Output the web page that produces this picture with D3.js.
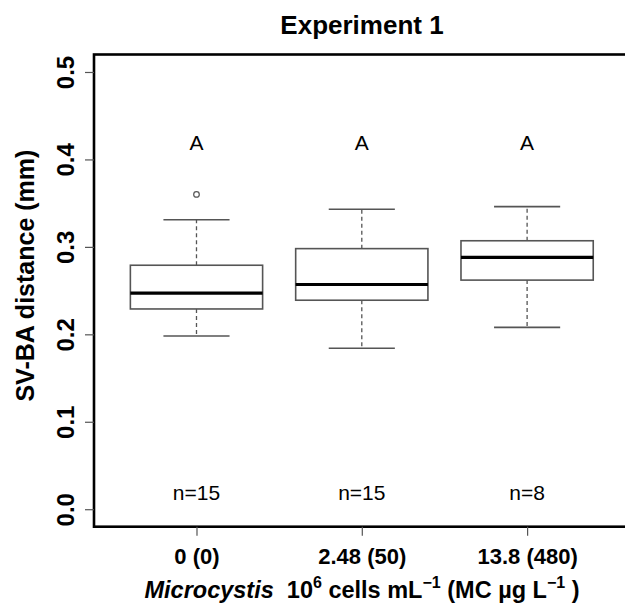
<!DOCTYPE html>
<html>
<head>
<meta charset="utf-8">
<script src="https://cdn.jsdelivr.net/npm/d3@7/dist/d3.min.js"></script>
<style>
  html, body { margin: 0; padding: 0; background: #fff; }
  svg { display: block; font-family: "Liberation Sans", Arial, sans-serif; }
</style>
</head>
<body>
<script>
// ---- data ----
const categories = ["0 (0)", "2.48 (50)", "13.8 (480)"];
const whiskerLow = [0.198, 0.184, 0.208];
const q1 = [0.229, 0.239, 0.262];
const median = [0.247, 0.257, 0.288];
const q3 = [0.279, 0.298, 0.307];
const whiskerHigh = [0.331, 0.343, 0.346];
const outliers = [[0.360], [], []];
const nLabels = ["n=15", "n=15", "n=8"];
const groupLetters = ["A", "A", "A"];
const yTicks = [0, 0.1, 0.2, 0.3, 0.4, 0.5];
const title = "Experiment 1";
const yTitle = "SV-BA distance (mm)";

const W = 625, H = 614;
const svg = d3.select("body").append("svg").attr("width", W).attr("height", H);

// R-style usr extents (4% extension)
const x = d3.scaleLinear().domain([0.38, 3.62]).range([94, 629.6]);
const y = d3.scaleLinear().domain([-0.02, 0.52]).range([526.7, 54.5]);

const boxHalf = 0.4, capHalf = 0.2;

// boxes
const g = svg.append("g");
categories.forEach((c, i) => {
  const cx = i + 1;
  // whiskers (dashed)
  g.append("line").attr("x1", x(cx)).attr("x2", x(cx))
    .attr("y1", y(q3[i])).attr("y2", y(whiskerHigh[i]))
    .attr("stroke", "#555").attr("stroke-width", 1.3).attr("stroke-dasharray", "4,3");
  g.append("line").attr("x1", x(cx)).attr("x2", x(cx))
    .attr("y1", y(q1[i])).attr("y2", y(whiskerLow[i]))
    .attr("stroke", "#555").attr("stroke-width", 1.3).attr("stroke-dasharray", "4,3");
  // caps
  [whiskerHigh[i], whiskerLow[i]].forEach(v => {
    g.append("line").attr("x1", x(cx - capHalf)).attr("x2", x(cx + capHalf))
      .attr("y1", y(v)).attr("y2", y(v))
      .attr("stroke", "#555").attr("stroke-width", 1.6);
  });
  // box
  g.append("rect").attr("x", x(cx - boxHalf)).attr("width", x(cx + boxHalf) - x(cx - boxHalf))
    .attr("y", y(q3[i])).attr("height", y(q1[i]) - y(q3[i]))
    .attr("fill", "#fff").attr("stroke", "#555").attr("stroke-width", 1.6);
  // median
  g.append("line").attr("x1", x(cx - boxHalf)).attr("x2", x(cx + boxHalf))
    .attr("y1", y(median[i])).attr("y2", y(median[i]))
    .attr("stroke", "#000").attr("stroke-width", 3.2);
  // outliers
  outliers[i].forEach(v => {
    g.append("circle").attr("cx", x(cx)).attr("cy", y(v)).attr("r", 2.8)
      .attr("fill", "none").attr("stroke", "#555").attr("stroke-width", 1.2);
  });
  // letters
  g.append("text").attr("x", x(cx)).attr("y", y(0.42) + 8)
    .attr("text-anchor", "middle").attr("font-size", 21).attr("fill", "#000")
    .text(groupLetters[i]);
  // n labels
  g.append("text").attr("x", x(cx)).attr("y", y(0.02) + 8)
    .attr("text-anchor", "middle").attr("font-size", 21).attr("fill", "#000")
    .text(nLabels[i]);
});

// plot frame (right edge runs off the canvas)
svg.append("rect").attr("x", x(0.38)).attr("y", y(0.52))
  .attr("width", x(3.62) - x(0.38)).attr("height", y(-0.02) - y(0.52))
  .attr("fill", "none").attr("stroke", "#000").attr("stroke-width", 2.6);

// y axis
const yAxis = d3.axisLeft(y).tickValues(yTicks).tickSize(9).tickFormat(d3.format(".1f"));
const ya = svg.append("g").attr("transform", `translate(${x(0.38)},0)`).call(yAxis);
ya.select(".domain").remove();
ya.selectAll(".tick line").attr("stroke", "#555").attr("stroke-width", 1.2);
ya.selectAll(".tick text")
  .attr("font-size", 24).attr("font-weight", "bold").attr("fill", "#000")
  .attr("font-family", "Liberation Sans, Arial, sans-serif")
  .attr("x", null).attr("dy", null)
  .attr("text-anchor", "middle")
  .attr("transform", "translate(-20,0) rotate(-90)")
  .attr("y", 0);

// x axis
const xAxis = d3.axisBottom(x).tickValues([1, 2, 3]).tickSize(9).tickFormat((d) => categories[d - 1]);
const xa = svg.append("g").attr("transform", `translate(0,${y(-0.02)})`).call(xAxis);
xa.select(".domain").remove();
xa.selectAll(".tick line").attr("stroke", "#555").attr("stroke-width", 1.2);
xa.selectAll(".tick text")
  .attr("font-size", 22).attr("font-weight", "bold").attr("fill", "#000")
  .attr("font-family", "Liberation Sans, Arial, sans-serif")
  .attr("dy", null).attr("y", 37);

// title
svg.append("text").attr("x", 362).attr("y", 34).attr("text-anchor", "middle")
  .attr("font-size", 26).attr("font-weight", "bold").text(title);

// y title
svg.append("text").attr("transform", `translate(34,${(y(-0.02) + y(0.52)) / 2 - 15}) rotate(-90)`)
  .attr("text-anchor", "middle").attr("font-size", 25).attr("font-weight", "bold").text(yTitle);

// x title
const xt = svg.append("text").attr("x", 362).attr("y", 598).attr("text-anchor", "middle")
  .attr("font-size", 23.5).attr("font-weight", "bold");
xt.append("tspan").attr("font-style", "italic").text("Microcystis");
xt.append("tspan").text("\u00a0 10");
xt.append("tspan").attr("dy", -10).attr("font-size", 16).text("6");
xt.append("tspan").attr("dy", 10).text(" cells mL");
xt.append("tspan").attr("dy", -10).attr("font-size", 16).text("\u22121");
xt.append("tspan").attr("dy", 10).text(" (MC \u00b5g L");
xt.append("tspan").attr("dy", -10).attr("font-size", 16).text("\u22121");
xt.append("tspan").attr("dy", 10).text(" )");
</script>
</body>
</html>
